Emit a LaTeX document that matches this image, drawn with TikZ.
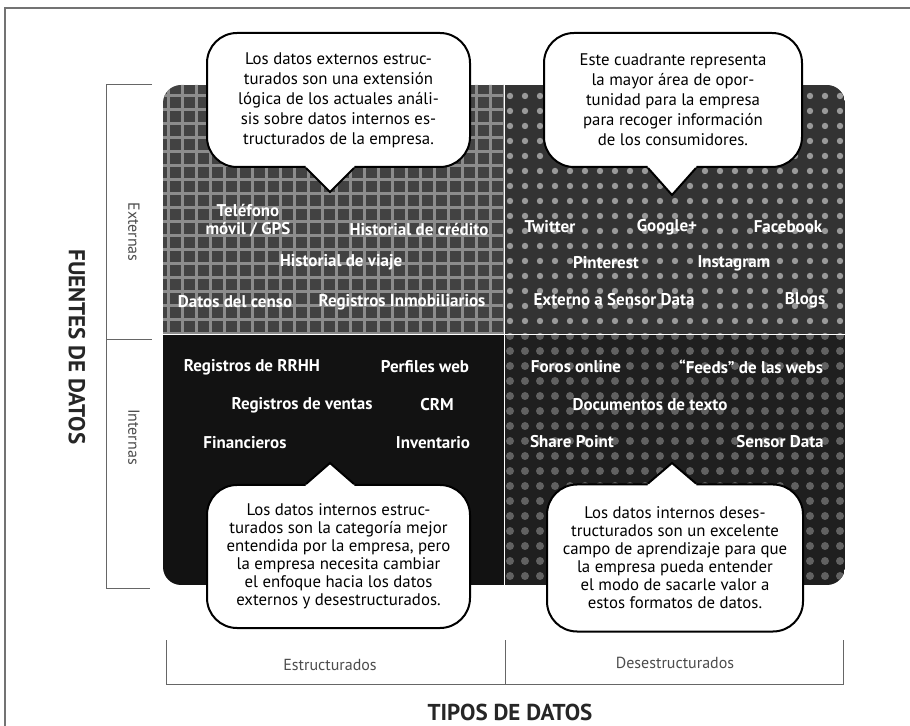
\documentclass[tikz,border=0pt]{standalone}
\usepackage{fontspec}
\setmainfont{PT Sans}
\usetikzlibrary{patterns.meta,calc}

\begin{document}
\begin{tikzpicture}[x=0.5pt,y=-0.5pt]
        \tikzstyle{nota}=[draw,line width=1pt,fill=white,rounded corners=15pt,align=center,inner sep=2pt]
        \tikzstyle{fuente}=[text=white,font=\fontsize{8.5}{9}\selectfont\bfseries,align=center,inner sep=1pt]
        \tikzstyle{eje}=[text=black!70,font=\fontsize{8}{9}\selectfont]
        \tikzstyle{titulo}=[text=black!85,font=\fontsize{11.5}{13}\selectfont\bfseries]
        \tikzstyle{marco}=[draw=black!60,line width=0.5pt]
        \useasboundingbox (0,0) rectangle (910,726);
        \draw[black!55,line width=0.8pt] (5,726) -- (5,8) -- (910,8);
        % cuadrantes
        \begin{scope}
            \clip[rounded corners=9pt] (163,85) rectangle (845,585);
            \fill[black!74] (163,85) rectangle (504,335);
            \fill[pattern={Hatch[distance=7pt,line width=1.5pt]},pattern color=black!45] (163,85) rectangle (504,335);
            \fill[black!80] (504,85) rectangle (845,335);
            \fill[pattern={Dots[radius=1.6pt,distance=7.5pt]},pattern color=black!40] (504,85) rectangle (845,335);
            \fill[black!93] (163,335) rectangle (504,585);
            \fill[black!88] (504,335) rectangle (845,585);
            \fill[pattern={Dots[radius=2pt,distance=7.5pt]},pattern color=black!62] (504,335) rectangle (845,585);
            \draw[white,line width=0.5pt] (504,85) -- (504,585) (163,335) -- (845,335);
        \end{scope}
        % ejes
        \draw[marco] (152,85) -- (106,85) -- (106,589) -- (150,589);
        \draw[marco] (106,340) -- (152,340);
        \draw[marco] (166,640) -- (166,684) -- (843,684) -- (843,640);
        \draw[marco] (505,640) -- (505,684);
        \node[eje,rotate=-90] (externas) at (134,232) {Externas};
        \node[eje,rotate=-90] (internas) at (134,437) {Internas};
        \node[eje] (estruct) at (330,665) {Estructurados};
        \node[eje] (desestruct) at (675,663) {Desestructurados};
        \node[titulo,rotate=-90] (fuentes) at (77,347) {FUENTES DE DATOS};
        \node[titulo] (tipos) at (510,712) {TIPOS DE DATOS};
        % externas estructurados
        \node[fuente] (telefono) at (248,221) {Teléfono\\móvil / GPS};
        \node[fuente] (credito) at (419,230) {Historial de crédito};
        \node[fuente] (viaje) at (341,262) {Historial de viaje};
        \node[fuente] (censo) at (235,302) {Datos del censo};
        \node[fuente] (inmob) at (402,302) {Registros Inmobiliarios};
        % externas desestructurados
        \node[fuente] (twitter) at (550,227) {Twitter};
        \node[fuente] (google) at (667,227) {Google+};
        \node[fuente] (facebook) at (788,227) {Facebook};
        \node[fuente] (pinterest) at (606,263) {Pinterest};
        \node[fuente] (instagram) at (734,263) {Instagram};
        \node[fuente] (externo) at (614,300) {Externo a Sensor Data};
        \node[fuente] (blogs) at (805,300) {Blogs};
        % internas estructurados
        \node[fuente] (rrhh) at (252,367) {Registros de RRHH};
        \node[fuente] (perfiles) at (425,367) {Perfiles web};
        \node[fuente] (ventas) at (302,405) {Registros de ventas};
        \node[fuente] (crm) at (437,405) {CRM};
        \node[fuente] (financieros) at (245,443) {Financieros};
        \node[fuente] (inventario) at (433,443) {Inventario};
        % internas desestructurados
        \node[fuente] (foros) at (576,367) {Foros online};
        \node[fuente] (feeds) at (751,367) {“Feeds” de las webs};
        \node[fuente] (documentos) at (650,405) {Documentos de texto};
        \node[fuente] (sharepoint) at (572,442) {Share Point};
        \node[fuente] (sensor) at (780,442) {Sensor Data};
        % notas
        \node[nota,minimum width=131.5pt,minimum height=67pt,font=\fontsize{8.4}{10}\selectfont] (notaA) at (338.5,100)
            {Los datos externos estruc-\\turados son una extensión\\lógica de los actuales análi-\\sis sobre datos internos es-\\tructurados de la empresa.};
        \node[nota,minimum width=129pt,minimum height=67pt,font=\fontsize{8.4}{10}\selectfont] (notaB) at (673,100)
            {Este cuadrante representa\\la mayor área de opor-\\tunidad para la empresa\\para recoger información\\de los consumidores.};
        \node[nota,minimum width=131.5pt,minimum height=71.5pt,font=\fontsize{8.4}{9}\selectfont] (notaC) at (338.5,556.5)
            {Los datos internos estruc-\\turados son la categoría mejor\\entendida por la empresa, pero\\la empresa necesita cambiar\\el enfoque hacia los datos\\externos y desestructurados.};
        \node[nota,minimum width=128pt,minimum height=73.5pt,font=\fontsize{8.4}{9}\selectfont] (notaD) at (675,558)
            {Los datos internos deses-\\tructurados son un excelente\\campo de aprendizaje para que\\la empresa pueda entender\\el modo de sacarle valor a\\estos formatos de datos.};
        \coordinate (puntaA) at (330,192);
        \coordinate (puntaB) at (672,195);
        \coordinate (puntaC) at (330,463);
        \coordinate (puntaD) at (672,463);
        \foreach \n/\p in {notaA/puntaA,notaB/puntaB} {
            \fill[white] ($(\p |- \n.south)+(-25,-5)$) -- ($(\p |- \n.south)+(-24,0)$) -- (\p) -- ($(\p |- \n.south)+(24,0)$) -- ($(\p |- \n.south)+(25,-5)$) -- cycle;
            \draw[line width=1pt] ($(\p |- \n.south)+(-24,0)$) -- (\p) -- ($(\p |- \n.south)+(24,0)$);
        }
        \foreach \n/\p in {notaC/puntaC,notaD/puntaD} {
            \fill[white] ($(\p |- \n.north)+(-25,5)$) -- ($(\p |- \n.north)+(-24,0)$) -- (\p) -- ($(\p |- \n.north)+(24,0)$) -- ($(\p |- \n.north)+(25,5)$) -- cycle;
            \draw[line width=1pt] ($(\p |- \n.north)+(-24,0)$) -- (\p) -- ($(\p |- \n.north)+(24,0)$);
        }
\end{tikzpicture}
\end{document}
